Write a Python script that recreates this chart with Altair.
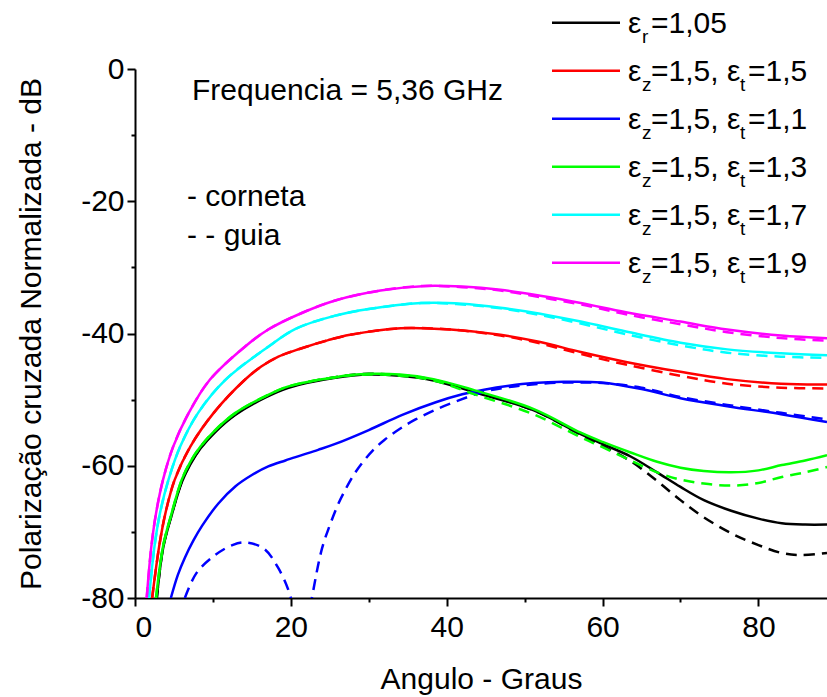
import altair as alt
import pandas as pd

FONT = "Liberation Sans"
FS = 30

# ---------------- data (angle in degrees, normalised cross-polarisation in dB) -------------
# eps_r = 1,05  (black)
bk_s_x = [2.8, 3.6, 4.7, 6.0, 7.1, 8.4, 10.3, 12.9, 16.7, 19.7, 25.7, 30, 34, 38.3, 43.6, 51.1, 57.2, 60, 63.6, 67, 70, 73, 76.5, 80, 83, 86, 88.8]
bk_s_y = [-80, -72.5, -67.5, -62.5, -59.8, -57.4, -54.9, -52.3, -49.7, -48.2, -46.7, -46.2, -46.4, -47.1, -48.9, -51.6, -55.2, -56.7, -58.6, -61.0, -63.2, -65.2, -66.8, -68.0, -68.7, -68.9, -68.9]
bk_d_x = [2.8, 3.6, 4.7, 6.0, 7.1, 8.4, 10.3, 12.9, 16.7, 19.7, 25.7, 30, 34, 38.3, 43.6, 51.1, 57.2, 60, 63.6, 67, 70, 73, 76.5, 80, 83, 85.5, 88.8]
bk_d_y = [-80, -72.4, -67.4, -62.4, -59.7, -57.3, -54.8, -52.2, -49.6, -48.1, -46.6, -46.1, -46.3, -47.0, -48.8, -51.6, -55.3, -57.0, -59.3, -62.3, -65.2, -67.8, -70.2, -72.0, -73.2, -73.5, -73.2]

# eps_z = 1,5 , eps_t = 1,5  (red)
rd_s_x = [2.2, 3.1, 3.9, 5.1, 7.1, 10.1, 14.1, 16.2, 18.4, 21.2, 24.8, 27.6, 34.1, 40.5, 46.9, 52, 57.2, 63, 70, 76, 82.9, 88.8]
rd_s_y = [-80, -72.2, -67.2, -62.1, -57.1, -52.0, -47.0, -45.0, -43.5, -42.3, -41.0, -40.2, -39.2, -39.4, -40.2, -41.3, -42.8, -44.3, -45.8, -46.9, -47.6, -47.7]
rd_d_x = [2.2, 3.1, 3.9, 5.1, 7.1, 10.1, 14.1, 16.2, 18.4, 21.2, 24.8, 27.6, 34.1, 40.5, 46.9, 52, 57.2, 63, 70, 76, 82.9, 88.8]
rd_d_y = [-80, -72.2, -67.2, -62.1, -57.1, -52.0, -47.0, -45.0, -43.5, -42.3, -41.0, -40.2, -39.2, -39.4, -40.3, -41.5, -43.1, -44.7, -46.4, -47.6, -48.2, -48.3]

# eps_z = 1,5 , eps_t = 1,1  (blue)
bl_s_x = [4.6, 5.5, 6.4, 7.5, 8.6, 10.7, 12.9, 15.0, 17.1, 19.3, 21.4, 23.5, 25.7, 30, 34.3, 38.6, 42, 44.8, 48, 51.1, 55, 59.8, 65, 70, 76, 82.9, 88.8]
bl_s_y = [-80, -76.5, -73.9, -71.3, -69.1, -65.7, -63.1, -61.4, -60.1, -59.2, -58.4, -57.6, -56.7, -54.6, -52.3, -50.4, -49.2, -48.5, -47.9, -47.5, -47.3, -47.4, -48.4, -49.8, -51.0, -52.2, -53.4]
bl_d_x = [6.4, 7.9, 10.3, 12.5, 14.1, 16.5, 18.4, 20.0, 21.3, 22.7, 24.0, 25.0, 26.0, 27.0, 28.0, 29.0, 30.5, 32.0, 34.0, 36.0, 38.6, 41.8, 44.8, 48, 52, 56, 60, 65, 70, 76, 82.9, 88.8]
bl_d_y = [-80, -76.2, -73.5, -72.0, -71.6, -72.5, -75.5, -80, -90, -80, -72.5, -69.0, -66.0, -63.6, -61.5, -59.8, -57.7, -56.1, -54.4, -53.0, -51.5, -50.0, -48.8, -48.1, -47.6, -47.4, -47.5, -48.2, -49.6, -50.8, -52.0, -53.0]

# eps_z = 1,5 , eps_t = 1,3  (green)
gr_s_x = [2.7, 3.6, 4.7, 6.0, 7.1, 8.4, 10.3, 12.9, 16.7, 19.7, 25.7, 30, 34, 38.3, 43.6, 51.1, 57.2, 60, 63.6, 67, 70, 73, 76.5, 80, 83, 86, 88.8]
gr_s_y = [-80, -72.2, -67.2, -62.1, -59.4, -57.1, -54.6, -52.0, -49.5, -48.0, -46.6, -46.1, -46.2, -46.9, -48.6, -51.4, -55.0, -56.4, -58.0, -59.4, -60.3, -60.8, -61.0, -60.7, -59.9, -59.2, -58.4]
gr_d_x = [2.7, 3.6, 4.7, 6.0, 7.1, 8.4, 10.3, 12.9, 16.7, 19.7, 25.7, 30, 34, 38.3, 43.6, 51.1, 57.2, 60, 63.6, 67, 70, 73, 76.5, 80, 83, 86, 88.8]
gr_d_y = [-80, -72.2, -67.2, -62.1, -59.4, -57.1, -54.6, -52.0, -49.5, -48.0, -46.6, -46.2, -46.4, -47.1, -49.2, -52.2, -55.7, -57.2, -59.2, -61.0, -62.1, -62.7, -63.0, -62.6, -61.7, -61.0, -60.2]

# eps_z = 1,5 , eps_t = 1,7  (cyan)
cy_s_x = [1.8, 2.5, 3.2, 4.3, 5.8, 8.1, 11.6, 17.1, 20.6, 25.7, 30, 36.7, 42, 46.9, 52, 57.2, 63, 70, 76, 82.9, 88.8]
cy_s_y = [-80, -72.2, -67.2, -62.1, -57.1, -52.0, -47.0, -42.0, -39.3, -37.3, -36.3, -35.4, -35.5, -36.1, -37.0, -38.2, -39.7, -41.4, -42.4, -43.0, -43.3]
cy_d_x = [1.8, 2.5, 3.2, 4.3, 5.8, 8.1, 11.6, 17.1, 20.6, 25.7, 30, 36.7, 42, 46.9, 52, 57.2, 63, 70, 76, 82.9, 88.8]
cy_d_y = [-80, -72.2, -67.2, -62.1, -57.1, -52.0, -47.0, -42.0, -39.3, -37.3, -36.3, -35.4, -35.6, -36.2, -37.2, -38.5, -40.1, -41.8, -42.9, -43.5, -43.7]

# eps_z = 1,5 , eps_t = 1,9  (magenta)
mg_s_x = [1.5, 2.1, 2.7, 3.6, 4.9, 6.9, 9.6, 14.1, 17.1, 21.4, 25.7, 31.5, 37.3, 42, 46.9, 52, 57.2, 63, 70, 76, 82.9, 88.8]
mg_s_y = [-80, -72.2, -67.2, -62.1, -57.1, -52.0, -47.0, -42.0, -39.4, -36.9, -35.0, -33.5, -32.8, -32.9, -33.4, -34.3, -35.4, -36.8, -38.2, -39.4, -40.3, -40.7]
mg_d_x = [1.5, 2.1, 2.7, 3.6, 4.9, 6.9, 9.6, 14.1, 17.1, 21.4, 25.7, 31.5, 37.3, 42, 46.9, 52, 57.2, 63, 70, 76, 82.9, 88.8]
mg_d_y = [-80, -72.2, -67.2, -62.1, -57.1, -52.0, -47.0, -42.0, -39.4, -36.9, -35.0, -33.5, -32.8, -33.0, -33.5, -34.5, -35.6, -37.1, -38.6, -39.8, -40.7, -41.1]

series_colors = ["#000000", "#ff0000", "#0000ff", "#00ff00", "#00ffff", "#ff00ff"]
series_data = [
    (bk_s_x, bk_s_y, bk_d_x, bk_d_y),
    (rd_s_x, rd_s_y, rd_d_x, rd_d_y),
    (bl_s_x, bl_s_y, bl_d_x, bl_d_y),
    (gr_s_x, gr_s_y, gr_d_x, gr_d_y),
    (cy_s_x, cy_s_y, cy_d_x, cy_d_y),
    (mg_s_x, mg_s_y, mg_d_x, mg_d_y),
]

# legend text pieces (epsilon with subscripts)
leg_sub1 = ["r", "z", "z", "z", "z", "z"]
leg_rest1 = ["=1,05", "=1,5,", "=1,5,", "=1,5,", "=1,5,", "=1,5,"]
leg_sub2 = ["", "t", "t", "t", "t", "t"]
leg_rest2 = ["", "=1,5", "=1,1", "=1,3", "=1,7", "=1,9"]

annot_texts = ["Frequencia = 5,36 GHz", "- corneta", "- - guia"]

x_major = [0, 20, 40, 60, 80]
x_minor = [10, 30, 50, 70]
y_major = [0, -20, -40, -60, -80]
y_minor = [-10, -30, -50, -70]

# ---------------- chart ----------------
W, H = 692, 529
L, T = 135, 69

xscale = alt.Scale(domain=[0, 88.8], nice=False, zero=False)
yscale = alt.Scale(domain=[-80, 0], nice=False, zero=False)

common_axis = dict(grid=False, domainColor="black", domainWidth=2, tickColor="black",
                   tickWidth=2, labelFont=FONT, labelFontSize=FS, labelColor="black",
                   titleFont=FONT, titleFontSize=FS, titleColor="black", titleFontWeight="normal")

x_axis = alt.Axis(values=x_major, tickSize=8, labelPadding=6,
                  labelExpr="toString(datum.value)", title="Angulo - Graus",
                  titleY=90, titleBaseline="alphabetic", **common_axis)
y_axis = alt.Axis(values=y_major, tickSize=8, labelPadding=3,
                  labelExpr="toString(datum.value)",
                  title="Polarização cruzada Normalizada - dB",
                  titleX=-104, titleY=H / 2, titleAngle=-90, titleAlign="center",
                  titleBaseline="middle", **common_axis)

X = alt.X("angle:Q", scale=xscale, axis=x_axis)
Y = alt.Y("db:Q", scale=yscale, axis=y_axis)

line_layers = []
for col, (sx, sy, dx, dy) in zip(series_colors, series_data):
    ds = pd.DataFrame({"angle": sx, "db": sy})
    dd = pd.DataFrame({"angle": dx, "db": dy})
    line_layers.append(alt.Chart(ds).mark_line(color=col, strokeWidth=2.5, clip=True,
                                               interpolate="catmull-rom").encode(x=X, y=Y))
    line_layers.append(alt.Chart(dd).mark_line(color=col, strokeWidth=2.5, clip=True,
                                               strokeDash=[11, 7],
                                               interpolate="catmull-rom").encode(x=X, y=Y))
lines = alt.layer(*line_layers)

minor_df = pd.DataFrame({"mx": x_minor, "my": y_minor})
minor_common = dict(domain=False, grid=False, labels=False, title=None, tickColor="black", tickWidth=2)
minor = alt.Chart(minor_df).mark_point(opacity=0).encode(
    x=alt.X("mx:Q", scale=xscale, axis=alt.Axis(values=x_minor, tickSize=4, orient="bottom", **minor_common)),
    y=alt.Y("my:Q", scale=yscale, axis=alt.Axis(values=y_minor, tickSize=4, orient="left", **minor_common)),
)

# legend (manual, to allow subscripts)
rows = list(range(6))
leg_lines = pd.DataFrame({"row": rows, "col": series_colors})
leg_lines["py"] = [22.7 - T + 48 * r for r in rows]
leg_lines["px1"] = 552 - L
leg_lines["px2"] = 620 - L
legend_rule = alt.Chart(leg_lines).mark_rule(strokeWidth=2.5).encode(
    x=alt.X("px1:Q", scale=None), x2="px2:Q", y=alt.Y("py:Q", scale=None),
    color=alt.Color("col:N", scale=None),
)

main_pieces = []
sub_pieces = []
for r in rows:
    base = 33 - T + 48 * r
    main_pieces.append({"px": 628 - L, "py": base, "txt": "ε"})
    main_pieces.append({"px": 651 - L, "py": base, "txt": leg_rest1[r]})
    sub_pieces.append({"px": 642 - L, "py": base + 10, "txt": leg_sub1[r]})
    if leg_sub2[r]:
        main_pieces.append({"px": 727 - L, "py": base, "txt": "ε"})
        sub_pieces.append({"px": 740 - L, "py": base + 10, "txt": leg_sub2[r]})
        main_pieces.append({"px": 748 - L, "py": base, "txt": leg_rest2[r]})

legend_main = alt.Chart(pd.DataFrame(main_pieces)).mark_text(
    font=FONT, fontSize=FS, align="left", baseline="alphabetic", color="black"
).encode(x=alt.X("px:Q", scale=None), y=alt.Y("py:Q", scale=None), text="txt:N")
legend_sub = alt.Chart(pd.DataFrame(sub_pieces)).mark_text(
    font=FONT, fontSize=19, align="left", baseline="alphabetic", color="black"
).encode(x=alt.X("px:Q", scale=None), y=alt.Y("py:Q", scale=None), text="txt:N")

annot_df = pd.DataFrame({"txt": annot_texts, "px": [57, 52, 52], "py": [31, 137, 176]})
annot = alt.Chart(annot_df).mark_text(
    font=FONT, fontSize=FS, align="left", baseline="alphabetic", color="black"
).encode(x=alt.X("px:Q", scale=None), y=alt.Y("py:Q", scale=None), text="txt:N")

chart = alt.layer(lines, minor, legend_rule, legend_main, legend_sub, annot).resolve_axis(
    x="independent", y="independent"
).properties(
    width=W, height=H,
    autosize=alt.AutoSizeParams(type="none"),
    padding={"left": L, "top": T, "right": 0, "bottom": 697 - T - H},
    background="white",
).configure_view(stroke=None)

chart.save("out.html", embed_options={"renderer": "svg", "actions": False})
